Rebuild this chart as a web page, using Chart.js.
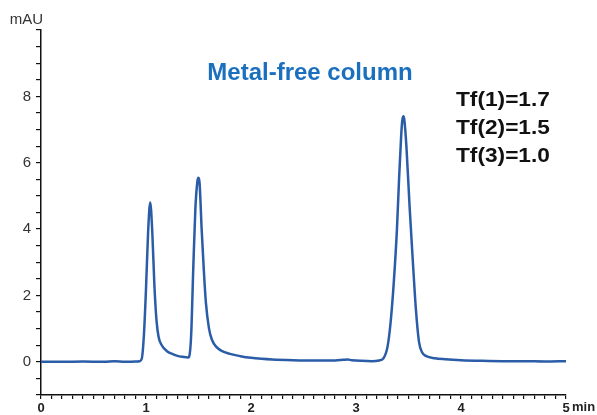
<!DOCTYPE html>
<html>
<head>
<meta charset="utf-8">
<script src="https://cdn.jsdelivr.net/npm/chart.js@4"></script>
<style>
html,body{margin:0;padding:0;background:#fff;}
#c{display:block;}
</style>
</head>
<body>
<canvas id="c" width="597" height="415"></canvas>
<script>
const timeMin = [0.00,0.20,0.40,0.60,0.70,0.80,0.90,0.94,0.96,0.98,1.00,1.02,1.04,1.06,1.08,1.10,1.12,1.15,1.20,1.25,1.30,1.35,1.40,1.41,1.43,1.45,1.47,1.49,1.50,1.51,1.53,1.55,1.57,1.60,1.63,1.67,1.72,1.80,1.90,2.00,2.10,2.20,2.40,2.60,2.80,2.88,2.92,2.96,3.05,3.15,3.22,3.26,3.30,3.33,3.36,3.39,3.41,3.43,3.44,3.45,3.46,3.48,3.51,3.54,3.57,3.60,3.63,3.67,3.75,3.85,4.00,4.20,4.40,4.60,4.80,5.00];
const absorbance = [0.00,0.00,0.01,0.00,0.02,0.00,0.01,0.02,0.10,0.80,2.20,3.90,4.80,3.90,2.30,1.25,0.75,0.50,0.32,0.24,0.18,0.15,0.13,0.15,0.80,2.80,4.60,5.45,5.55,5.40,4.00,2.80,1.80,1.00,0.65,0.45,0.33,0.24,0.17,0.12,0.09,0.07,0.05,0.04,0.04,0.06,0.07,0.05,0.03,0.02,0.04,0.10,0.45,1.20,2.40,4.00,5.50,6.80,7.25,7.40,7.30,6.50,4.70,3.10,1.60,0.60,0.28,0.17,0.11,0.08,0.05,0.03,0.02,0.02,0.01,0.02];
const yLabelValues = [0,2,4,6,8];
const xLabelValues = [0,1,2,3,4,5];
const chartTitle = "Metal-free column";
const tailingLabels = ["Tf(1)=1.7","Tf(2)=1.5","Tf(3)=1.0"];
const yUnit = "mAU";
const xUnit = "min";

const points = timeMin.map((t,i)=>({x:t,y:absorbance[i]}));
const near = (v,arr)=>arr.find(a=>Math.abs(a-v)<1e-6);
const FAM = '"Liberation Sans", Arial, sans-serif';

const textPlugin = {
  id:'texts',
  afterDraw(chart){
    const ctx = chart.ctx;
    const xs = chart.scales.x;
    ctx.save();
    ctx.fillStyle = '#333';
    ctx.font = '15px ' + FAM;
    ctx.textAlign = 'right';
    ctx.textBaseline = 'middle';
    ctx.fillText(yUnit, 43, 20);
    ctx.fillStyle = '#222';
    ctx.font = 'bold 13px ' + FAM;
    ctx.textAlign = 'left';
    ctx.textBaseline = 'middle';
    ctx.fillText(xUnit, xs.getPixelForValue(5)+6, 407);
    ctx.fillStyle = '#1a6fbf';
    ctx.font = 'bold 24px ' + FAM;
    ctx.textAlign = 'center';
    ctx.textBaseline = 'alphabetic';
    ctx.fillText(chartTitle, 310, 80);
    ctx.fillStyle = '#111';
    ctx.font = 'bold 21px ' + FAM;
    ctx.textAlign = 'left';
    tailingLabels.forEach((s,i)=>{
      ctx.save();
      ctx.translate(456, 106 + i*28);
      ctx.scale(1.08,1);
      ctx.fillText(s, 0, 0);
      ctx.restore();
    });
    ctx.restore();
  }
};

new Chart(document.getElementById('c'), {
  type:'line',
  data:{datasets:[{data:points, borderColor:'#2a5ca8', borderWidth:2.5, pointRadius:0, fill:false, cubicInterpolationMode:'monotone'}]},
  options:{
    responsive:false, animation:false,
    layout:{padding:{top:30,right:31,left:0,bottom:0}},
    plugins:{legend:{display:false},tooltip:{enabled:false},title:{display:false}},
    scales:{
      x:{type:'linear',min:0,max:5,
        afterFit(s){s.height=20;},
        border:{color:'#111',width:1.5},
        grid:{drawOnChartArea:false,drawTicks:true,tickLength:4,color:'#111',lineWidth:1.2},
        ticks:{stepSize:0.1,autoSkip:false,maxRotation:0,padding:2,color:'#222',
          font:{family:FAM,size:13,weight:'bold'},
          callback:(v)=>{const m=near(v,xLabelValues);return m===undefined?'':String(m);}}
      },
      y:{type:'linear',min:-1,max:10,
        afterFit(s){s.width=41;},
        border:{color:'#111',width:1.5},
        grid:{drawOnChartArea:false,drawTicks:true,tickLength:5,color:'#111',lineWidth:1.2},
        ticks:{stepSize:0.5,autoSkip:false,padding:5,color:'#333',
          font:{family:FAM,size:15},
          callback:(v)=>{const m=near(v,yLabelValues);return m===undefined?'':String(m);}}
      }
    }
  },
  plugins:[textPlugin]
});
</script>
</body>
</html>
